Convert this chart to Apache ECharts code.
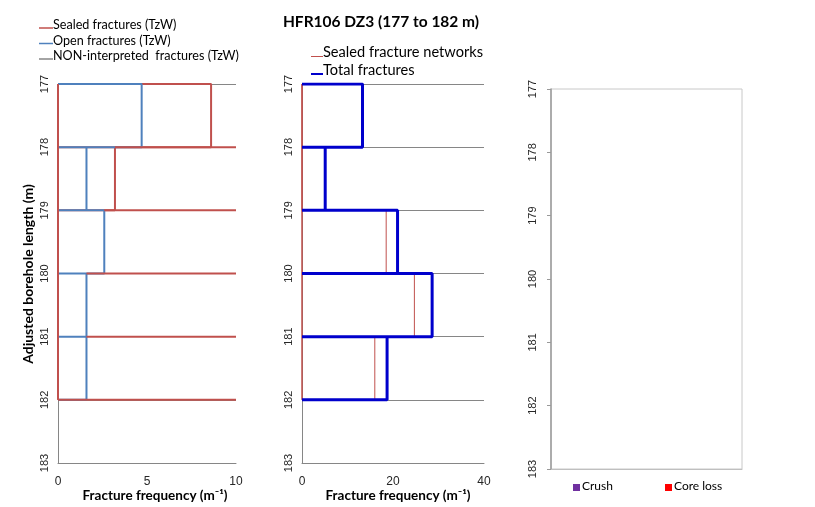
<!DOCTYPE html>
<html>
<head>
<meta charset="utf-8">
<script src="https://cdn.jsdelivr.net/npm/echarts@6/dist/echarts.min.js"></script>
<style>html,body{margin:0;padding:0;background:#fff}#c{width:815px;height:507px}</style>
</head>
<body>
<div id="c"></div>
<script>
// ---- data ----
const depthBoundaries = [177, 178, 179, 180, 181, 182];
const sealedTzW = [8.6, 3.2, 0, 0, 0];
const openTzW = [4.7, 1.6, 2.6, 1.6, 1.6];
const sealedNetworks = [0, 0, 18.5, 24.7, 16.0];
const totalFractures = [13.3, 5.1, 21.0, 28.6, 18.7];
const depthMin = 177, depthMax = 183;
const freqMax1 = 10, freqMax2 = 40;
const titleText = 'HFR106 DZ3 (177 to 182 m)';
const legend1 = ['Sealed fractures (TzW)', 'Open fractures (TzW)', 'NON-interpreted  fractures (TzW)'];
const legend2 = ['Sealed fracture networks', 'Total fractures'];
const legend3 = ['Crush', 'Core loss'];

// ---- helpers ----
function boxPath(vals) {
  const pts = [];
  for (let i = 0; i < vals.length; i++) {
    const top = depthBoundaries[i], bot = depthBoundaries[i + 1], v = vals[i];
    pts.push([0, top], [v, top], [v, bot], [0, bot]);
  }
  return pts;
}
const RED = '#C0504D', BLUE = '#4F81BD', GREY = '#868686', DBLUE = '#0000CC';
const lastDepth = depthBoundaries[depthBoundaries.length - 1];
const firstDepth = depthBoundaries[0];

function lineSeries(data, xi, color, width, z) {
  return { type: 'line', xAxisIndex: xi, yAxisIndex: xi, data: data, showSymbol: false, symbol: 'none',
    lineStyle: { color: color, width: width }, itemStyle: { color: color }, z: z, silent: true, animation: false };
}

const series = [];
// panel 1
series.push(lineSeries(boxPath(sealedTzW), 0, RED, 2, 2));
series.push(lineSeries(boxPath(openTzW), 0, BLUE, 2, 3));
series.push(lineSeries([[0, firstDepth], [0, lastDepth]], 0, RED, 2, 4));
for (let j = 1; j < depthBoundaries.length; j++) {
  const start = j < sealedTzW.length ? Math.max(sealedTzW[j], openTzW[j]) : 0;
  series.push(lineSeries([[start, depthBoundaries[j]], [freqMax1, depthBoundaries[j]]], 0, RED, 2, 4));
}
// panel 2
series.push(lineSeries([[0, firstDepth], [0, lastDepth]].concat(boxPath(sealedNetworks)), 1, RED, 1, 2));
series.push(lineSeries(boxPath(totalFractures), 1, DBLUE, 3, 3));

const tickLabel = { fontFamily: 'Liberation Sans', fontSize: 11, color: '#262626' };

function yAx(gi, opts) {
  return Object.assign({
    gridIndex: gi, type: 'value', inverse: true, min: depthMin, max: depthMax, interval: 1,
    axisLine: { show: true, lineStyle: { color: GREY, width: 1 } },
    axisTick: { show: false },
    axisLabel: Object.assign({ rotate: 90, margin: 8 }, tickLabel),
    splitLine: { show: true, lineStyle: { color: GREY, width: 1 } }
  }, opts || {});
}
function xAx(gi, max, interval, opts) {
  return Object.assign({
    gridIndex: gi, type: 'value', min: 0, max: max, interval: interval,
    axisLine: { show: true, onZero: false, lineStyle: { color: GREY, width: 1 } },
    axisTick: { show: false },
    axisLabel: Object.assign({ margin: 13 }, tickLabel, { fontSize: 12 }),
    splitLine: { show: false }
  }, opts || {});
}

const calibri = 'Lato';
const graphic = [
  { type: 'text', style: { text: titleText, x: 381, y: 22, textAlign: 'center', textVerticalAlign: 'middle', font: 'bold 15.5px ' + calibri, fill: '#000' } },
  { type: 'text', style: { text: 'Adjusted borehole length (m)', x: 0, y: 0, textAlign: 'center', textVerticalAlign: 'middle', font: 'bold 14px ' + calibri, fill: '#000' }, x: 28, y: 274, rotation: Math.PI / 2 },
  { type: 'text', style: { text: 'Fracture frequency (m\u207B\u00B9)', x: 155, y: 496, textAlign: 'center', textVerticalAlign: 'middle', font: 'bold 13.5px ' + calibri, fill: '#000' } },
  { type: 'text', style: { text: 'Fracture frequency (m\u207B\u00B9)', x: 398, y: 496, textAlign: 'center', textVerticalAlign: 'middle', font: 'bold 13.5px ' + calibri, fill: '#000' } }
];
const leg1Colors = [RED, BLUE, GREY];
const leg1Y = [25, 40.5, 56];
legend1.forEach((t, i) => {
  graphic.push({ type: 'line', shape: { x1: 39, y1: leg1Y[i] + 3, x2: 53, y2: leg1Y[i] + 3 }, style: { stroke: leg1Colors[i], lineWidth: 1.5 } });
  graphic.push({ type: 'text', style: { text: t, x: 53, y: leg1Y[i], textVerticalAlign: 'middle', font: '12.6px ' + calibri, fill: '#000' } });
});
const leg2Colors = [RED, DBLUE];
const leg2Y = [52.5, 70];
const leg2W = [1, 2];
legend2.forEach((t, i) => {
  graphic.push({ type: 'line', shape: { x1: 311, y1: leg2Y[i] + 4, x2: 323, y2: leg2Y[i] + 4 }, style: { stroke: leg2Colors[i], lineWidth: leg2W[i] } });
  graphic.push({ type: 'text', style: { text: t, x: 323, y: leg2Y[i], textVerticalAlign: 'middle', font: '14.6px ' + calibri, fill: '#000' } });
});
const leg3Colors = ['#7030A0', '#FF0000'];
const leg3X = [573, 665];
legend3.forEach((t, i) => {
  graphic.push({ type: 'rect', shape: { x: leg3X[i], y: 484, width: 7, height: 7 }, style: { fill: leg3Colors[i] } });
  graphic.push({ type: 'text', style: { text: t, x: leg3X[i] + 9, y: 486.5, textVerticalAlign: 'middle', font: '12px ' + calibri, fill: '#000' } });
});

const option = {
  animation: false,
  backgroundColor: '#fff',
  grid: [
    { left: 58, top: 84, width: 178, height: 379 },
    { left: 302, top: 84, width: 182, height: 379 },
    { left: 551, top: 89, width: 191, height: 380, show: true, borderColor: '#C8C8C8', borderWidth: 1 }
  ],
  xAxis: [
    xAx(0, freqMax1, 5),
    xAx(1, freqMax2, 20),
    xAx(2, 1, 1, { axisLabel: { show: false }, axisLine: { show: true, lineStyle: { color: '#BFBFBF', width: 1 } } })
  ],
  yAxis: [
    yAx(0),
    yAx(1),
    yAx(2, { splitLine: { show: false }, axisTick: { show: true, length: 4, lineStyle: { color: '#999' } },
      axisLine: { show: true, lineStyle: { color: '#9A9A9A', width: 1.5 } },
      axisLabel: Object.assign({ rotate: 90, margin: 13 }, tickLabel) })
  ],
  series: series,
  graphic: graphic
};
const chart = echarts.init(document.getElementById('c'), null, { renderer: 'canvas' });
chart.setOption(option);
</script>
</body>
</html>
